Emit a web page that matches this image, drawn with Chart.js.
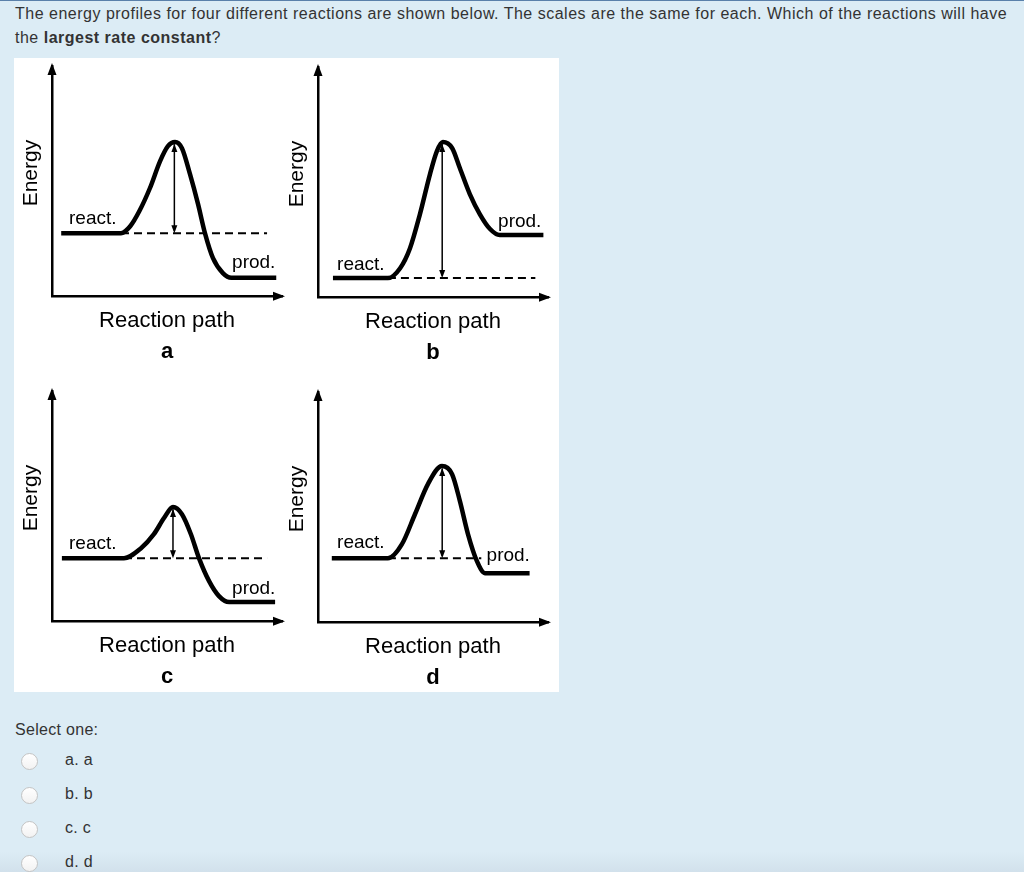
<!DOCTYPE html>
<html lang="en">
<head>
    <meta charset="UTF-8">
    <title>Energy profiles</title>
    <script src="https://cdn.jsdelivr.net/npm/chart.js"></script>
    <style>
        html, body {
            margin: 0;
            padding: 0;
        }
        body {
            width: 1024px;
            height: 872px;
            position: relative;
            overflow: hidden;
            font-family: "Liberation Sans", Arial, sans-serif;
            background-color: #dcecf5;
            color: #333;
            border-top: 1px solid #5a80aa;
            box-sizing: border-box;
        }
        .question {
            position: absolute;
            left: 15px;
            top: 1px;
            width: 1000px;
            font-size: 16px;
            letter-spacing: 0.5px;
            line-height: 24px;
        }
        #panel {
            position: absolute;
            left: 14px;
            top: 57px;
            width: 545px;
            height: 634px;
            background: #ffffff;
        }
        canvas {
            position: absolute;
        }
        .select {
            position: absolute;
            left: 15px;
            top: 720px;
            font-size: 16px;
            letter-spacing: 0.3px;
        }
        .opt {
            position: absolute;
            left: 0;
            font-size: 16px;
            letter-spacing: 0.3px;
        }
        .opt span.radio {
            position: absolute;
            left: 21px;
            width: 17px;
            height: 17px;
            border-radius: 50%;
            background: linear-gradient(#ffffff, #f2f2f2);
            border: 1px solid #c4c4c4;
            box-sizing: border-box;
        }
        .opt span.lbl {
            position: absolute;
            left: 65px;
            top: -1px;
            white-space: nowrap;
        }
        .bottom-shade {
            position: absolute;
            left: 0;
            right: 0;
            bottom: 0;
            height: 20px;
            background: linear-gradient(rgba(200, 214, 226, 0), rgba(200, 214, 226, 0.5));
        }
    </style>
</head>
<body>
    <div class="question">The energy profiles for four different reactions are shown below. The scales are the same for each. Which of the reactions will have the <b>largest rate constant</b>?</div>

    <div id="panel">
        <canvas id="diag_a" width="276" height="311" style="left:0px; top:0px;"></canvas>
        <canvas id="diag_b" width="276" height="311" style="left:266px; top:1px;"></canvas>
        <canvas id="diag_c" width="276" height="311" style="left:0px; top:325px;"></canvas>
        <canvas id="diag_d" width="276" height="311" style="left:266px; top:326px;"></canvas>
    </div>

    <div class="bottom-shade"></div>
    <div class="select">Select one:</div>
    <div class="opt" style="top:751px;"><span class="radio" style="top:1px;"></span><span class="lbl">a. a</span></div>
    <div class="opt" style="top:785px;"><span class="radio" style="top:1px;"></span><span class="lbl">b. b</span></div>
    <div class="opt" style="top:819px;"><span class="radio" style="top:1px;"></span><span class="lbl">c. c</span></div>
    <div class="opt" style="top:853px;"><span class="radio" style="top:1px;"></span><span class="lbl">d. d</span></div>

    <script>
        // Curves (x = reaction path 0..100, y = energy 0..100)
        const pathA = [4, 30, 34, 38, 42.6, 47, 50.4, 53.5, 56.5, 60, 63.5, 66.5, 70, 74.3, 78, 97.5];
        const energyA = [27.4, 27.4, 30.4, 37, 47, 58.7, 65.2, 67, 64.3, 53, 40, 27.4, 16.5, 10, 8, 8];

        const pathB = [6.5, 30.4, 35.7, 40, 44.3, 48.7, 51.7, 54.3, 58.3, 61.7, 66, 70.4, 74.8, 79, 98];
        const energyB = [8.3, 8.3, 12.6, 21.3, 36, 53.5, 63.5, 67.4, 64.8, 56, 44.8, 36, 29.6, 27, 27];

        const pathC = [4.3, 31.3, 38.7, 44.3, 48.7, 52.6, 56.5, 60.4, 63.9, 68.3, 72.6, 77, 97];
        const energyC = [27.4, 27.4, 31.7, 37.8, 44.8, 49.6, 46.5, 37.8, 27.4, 17.4, 10.9, 8.3, 8.3];

        const pathD = [6, 30.4, 36.5, 42.2, 47.8, 53.9, 58.3, 61.7, 65.2, 69.1, 72.6, 92];
        const energyD = [27.8, 27.8, 33.9, 47, 60, 67.8, 64.3, 52.6, 38.3, 26.5, 21.3, 21.3];

        // reactant level, peak, dashed line end and the x of the double arrow
        const reactLevel = [27.4, 8.3, 27.4, 27.8];
        const peakLevel = [67, 67.4, 49.6, 67.8];
        const reactEnd = [30, 30.4, 31.3, 30.4];
        const dashEnd = [93.5, 94.5, 93.5, 71];
        const arrowAt = [53.2, 54, 52.6, 54];
        const letters = ['a', 'b', 'c', 'd'];

        // where the "react." / "prod." words sit (data units, left/baseline)
        const reactText = [[7.4, 31.3], [8.3, 12], [7.4, 31.2], [8.3, 32.3]];
        const prodText = [[78.3, 12.3], [78.3, 30.6], [78.3, 12], [73.3, 26.5]];

        const FONT = '"Liberation Sans", Arial, sans-serif';

        // axis arrows, double arrow heads, labels and the rotated "Energy"
        const decorPlugin = {
            id: 'decor',
            afterDraw(chart, args, opts) {
                const { ctx, chartArea: a, scales: { x, y } } = chart;
                const i = opts.index;
                ctx.save();
                ctx.fillStyle = '#000';
                ctx.strokeStyle = '#000';

                // y axis arrow
                ctx.beginPath();
                ctx.moveTo(a.left, a.top - 3);
                ctx.lineTo(a.left - 4.5, a.top + 9);
                ctx.lineTo(a.left + 4.5, a.top + 9);
                ctx.closePath();
                ctx.fill();
                // x axis arrow
                ctx.beginPath();
                ctx.moveTo(a.right + 3, a.bottom);
                ctx.lineTo(a.right - 9, a.bottom - 4.5);
                ctx.lineTo(a.right - 9, a.bottom + 4.5);
                ctx.closePath();
                ctx.fill();

                // double headed arrow between reactants and the top
                const ax = x.getPixelForValue(arrowAt[i]);
                const top = y.getPixelForValue(peakLevel[i]) + 2;
                const bot = y.getPixelForValue(reactLevel[i]);
                ctx.beginPath();
                ctx.moveTo(ax, top);
                ctx.lineTo(ax - 3, top + 8);
                ctx.lineTo(ax + 3, top + 8);
                ctx.closePath();
                ctx.fill();
                ctx.beginPath();
                ctx.moveTo(ax, bot);
                ctx.lineTo(ax - 3, bot - 8);
                ctx.lineTo(ax + 3, bot - 8);
                ctx.closePath();
                ctx.fill();

                // labels
                ctx.font = '19px ' + FONT;
                ctx.textBaseline = 'alphabetic';
                ctx.textAlign = 'left';
                ctx.fillText('react.', x.getPixelForValue(reactText[i][0]), y.getPixelForValue(reactText[i][1]));
                ctx.fillText('prod.', x.getPixelForValue(prodText[i][0]), y.getPixelForValue(prodText[i][1]));

                // y axis title
                ctx.translate(a.left - 21, (a.top + a.bottom) / 2 - 8);
                ctx.rotate(-Math.PI / 2);
                ctx.font = '21px ' + FONT;
                ctx.textAlign = 'center';
                ctx.textBaseline = 'middle';
                ctx.fillText('Energy', 0, 0);
                ctx.restore();
            }
        };

        function toPoints(xs, ys) {
            return xs.map((v, k) => ({ x: v, y: ys[k] }));
        }

        function makeDiagram(id, i, xs, ys) {
            return new Chart(document.getElementById(id).getContext('2d'), {
                type: 'line',
                data: {
                    datasets: [
                        {
                            data: toPoints(xs, ys),
                            borderColor: '#000',
                            borderWidth: 4.5,
                            cubicInterpolationMode: 'monotone',
                            pointRadius: 0,
                            fill: false
                        },
                        {
                            data: [{ x: reactEnd[i], y: reactLevel[i] }, { x: dashEnd[i], y: reactLevel[i] }],
                            borderColor: '#000',
                            borderWidth: 2,
                            borderDash: [8, 5],
                            pointRadius: 0,
                            fill: false
                        },
                        {
                            data: [{ x: arrowAt[i], y: peakLevel[i] - 1 }, { x: arrowAt[i], y: reactLevel[i] + 1 }],
                            borderColor: '#000',
                            borderWidth: 1.5,
                            pointRadius: 0,
                            fill: false
                        }
                    ]
                },
                options: {
                    responsive: false,
                    animation: false,
                    events: [],
                    layout: { padding: { top: 8, right: 8, left: 38, bottom: 0 } },
                    plugins: {
                        legend: { display: false },
                        tooltip: { enabled: false },
                        title: {
                            display: true,
                            position: 'bottom',
                            fullSize: false,
                            text: letters[i],
                            color: '#000',
                            font: { family: FONT, size: 22, weight: 'bold' },
                            padding: { top: 0, bottom: 4 }
                        },
                        decor: { index: i }
                    },
                    scales: {
                        x: {
                            type: 'linear',
                            min: 0,
                            max: 100,
                            grid: { display: false, drawTicks: false },
                            ticks: { display: false },
                            border: { color: '#000', width: 2.5 },
                            title: {
                                display: true,
                                text: 'Reaction path',
                                color: '#000',
                                font: { family: FONT, size: 22 },
                                padding: { top: 12, bottom: 4 }
                            }
                        },
                        y: {
                            type: 'linear',
                            min: 0,
                            max: 100,
                            grid: { display: false, drawTicks: false },
                            ticks: { display: false },
                            border: { color: '#000', width: 2.5 }
                        }
                    }
                },
                plugins: [decorPlugin]
            });
        }

        makeDiagram('diag_a', 0, pathA, energyA);
        makeDiagram('diag_b', 1, pathB, energyB);
        makeDiagram('diag_c', 2, pathC, energyC);
        makeDiagram('diag_d', 3, pathD, energyD);
    </script>
</body>
</html>
